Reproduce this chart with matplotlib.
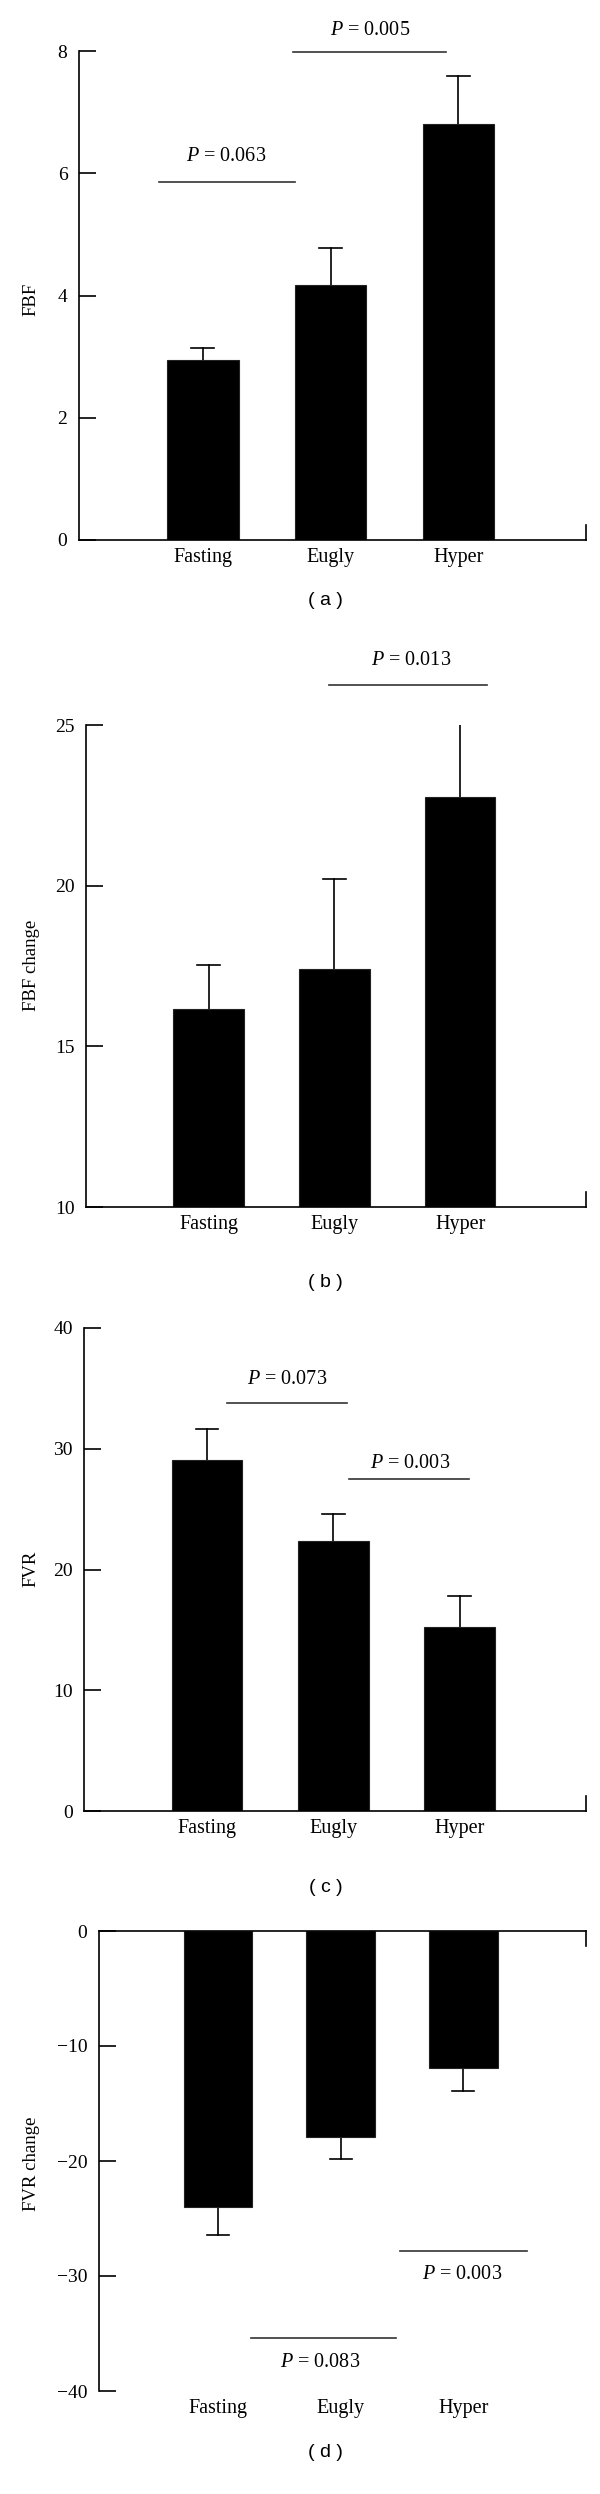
import matplotlib
matplotlib.use("Agg")
import matplotlib.pyplot as plt
import matplotlib.transforms as mtransforms

plt.rcParams['font.family'] = ['Liberation Serif', 'DejaVu Serif']
plt.rcParams['mathtext.fontset'] = 'custom'
plt.rcParams['mathtext.it'] = 'Liberation Serif:italic'
plt.rcParams['mathtext.rm'] = 'Liberation Serif'

groups = ["Fasting", "Eugly", "Hyper"]

# panel values (mean, upper/lower error end)
fbf = [2.95, 4.17, 6.81]
fbf_err = [0.19, 0.60, 0.78]
fbf_change = [16.17, 17.41, 22.75]
fbf_change_err = [1.37, 2.79, 2.37]
fvr = [29.1, 22.4, 15.2]
fvr_err = [2.5, 2.2, 2.6]
fvr_change = [-24.0, -17.9, -11.9]
fvr_change_err = [2.4, 1.9, 2.0]

# significance brackets: (x0, x1, y_line, x_text, y_text, label)
sig_a = [(0.655, 1.72, 5.86, 1.18, 6.27, "0.063"), (1.705, 2.90, 7.98, 2.31, 8.34, "0.005")]
sig_b = [(1.96, 3.21, 26.24, 2.61, 27.0, "0.013")]
sig_c = [(1.16, 2.11, 33.75, 1.63, 35.7, "0.073"), (2.125, 3.07, 27.5, 2.61, 28.8, "0.003")]
sig_d = [(1.27, 2.45, -35.4, 1.83, -37.5, "0.083"), (2.48, 3.52, -27.8, 2.99, -29.9, "0.003")]

W, H = 600, 2494
fig = plt.figure(figsize=(6, 24.94), dpi=100)


def make_axes(left, top, bottom, right=586):
    return fig.add_axes([left / W, 1 - bottom / H, (right - left) / W, (bottom - top) / H])


def draw_panel(ax, vals, errs, ylim, yticks, sigs, ylabel, ylab_y, caption, cap_y, negative=False):
    xs = [1, 2, 3]
    ax.bar(xs, vals, width=0.56, color="black", edgecolor="#222222", linewidth=0.8, zorder=2)
    for x, v, e in zip(xs, vals, errs):
        end = v - e if negative else v + e
        ax.plot([x, x], [v, end], color="black", lw=1.2, zorder=1)
        ax.plot([x - 0.09, x + 0.09], [end, end], color="black", lw=1.2, zorder=1)
    ax.set_xlim(0.025, 4.0)
    ax.set_ylim(*ylim)
    ax.set_yticks(yticks)
    ax.set_xticks(xs)
    ax.set_xticklabels(groups, fontsize=14.5)
    ax.tick_params(axis='y', direction='in', length=12, width=1.2, labelsize=14, pad=8)
    ax.tick_params(axis='x', length=0, pad=6)
    ax.spines['right'].set_visible(False)
    for s in ax.spines.values():
        s.set_linewidth(1.2)
    trans = mtransforms.blended_transform_factory(ax.transData, ax.transAxes)
    if negative:
        ax.spines['bottom'].set_visible(False)
        ax.spines['top'].set_visible(True)
        ax.plot([4.0, 4.0], [1.0, 1 - 15 / 460], transform=trans, color="black", lw=1.2, clip_on=False)
    else:
        ax.spines['top'].set_visible(False)
        h = ax.get_position().height * H
        ax.plot([4.0, 4.0], [0.0, 15 / h], transform=trans, color="black", lw=1.2, clip_on=False)
    for x0, x1, yl, xt, yt, lab in sigs:
        ax.plot([x0, x1], [yl, yl], color="#333333", lw=1.2, clip_on=False)
        ax.text(xt, yt, "$P$ = " + lab, ha="center", va="center", fontsize=14.5, clip_on=False)
    fig.text(31 / W, ylab_y, ylabel, rotation=90, ha="center", va="center", fontsize=13.5)
    fig.text(0.543, cap_y, caption, ha="center", va="center", fontsize=14,
             family=['Liberation Sans', 'DejaVu Sans'])


ax_a = make_axes(78.5, 51, 540)
draw_panel(ax_a, fbf, fbf_err, (0, 8), [0, 2, 4, 6, 8], sig_a, "FBF", 0.880, "( a )", 0.7594)

ax_b = make_axes(86, 725, 1207)
draw_panel(ax_b, fbf_change, fbf_change_err, (10, 25), [10, 15, 20, 25], sig_b, "FBF change", 0.613, "( b )", 0.4858)

ax_c = make_axes(84, 1328, 1811)
draw_panel(ax_c, fvr, fvr_err, (0, 40), [0, 10, 20, 30, 40], sig_c, "FVR", 0.371, "( c )", 0.243)

ax_d = make_axes(98.6, 1931, 2391)
draw_panel(ax_d, fvr_change, fvr_change_err, (-40, 0), [-40, -30, -20, -10, 0], sig_d, "FVR change", 0.1324, "( d )", 0.0168, negative=True)

fig.savefig("out.png", dpi=100)
